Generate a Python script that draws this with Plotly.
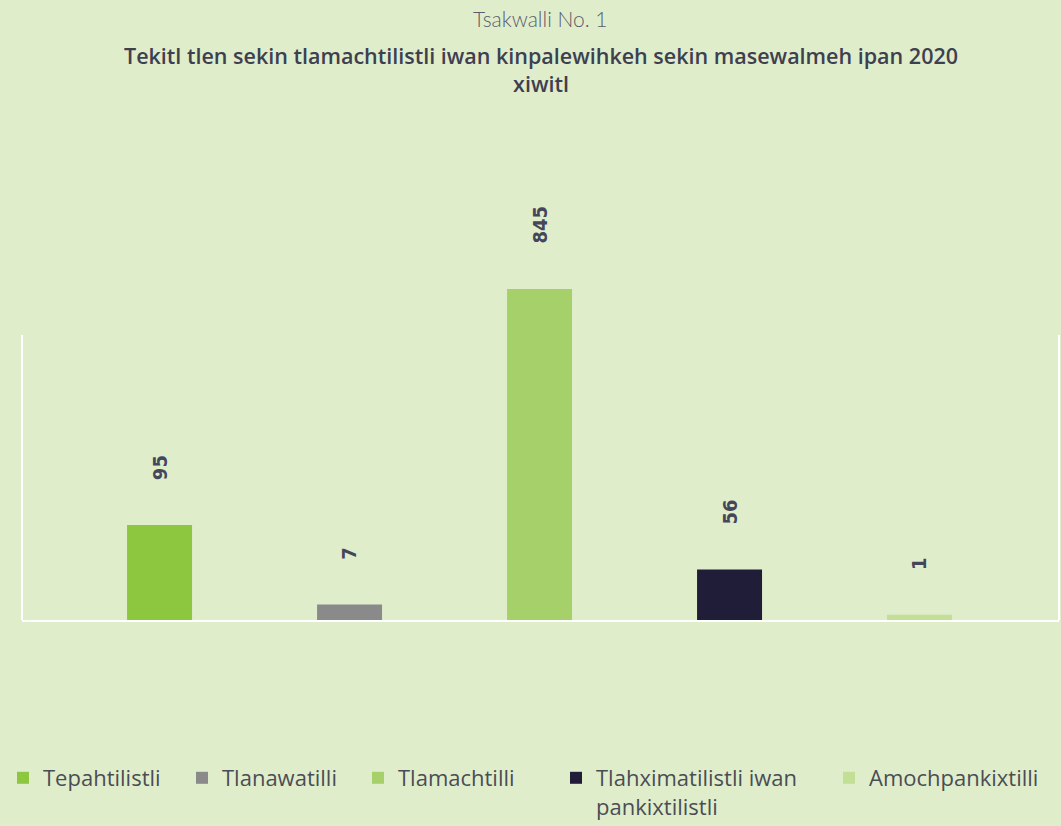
import plotly.graph_objects as go

categories = ["Tepahtilistli", "Tlanawatilli", "Tlamachtilli",
              "Tlahximatilistli iwan<br>pankixtilistli", "Amochpankixtilli"]
value_labels = ["95", "7", "845", "56", "1"]
# bar heights as drawn in the reference (frame top = 100)
bar_heights = [33.3, 5.4, 116.1, 17.7, 1.8]
colors = ["#8dc63f", "#8a8a8a", "#a6d06a", "#1f1d38", "#c3df95"]
title_small = "Tsakwalli No. 1"
title_main = "Tekitl tlen sekin tlamachtilistli iwan kinpalewihkeh sekin masewalmeh ipan 2020<br>xiwitl"

BG = "#e0edcb"
W, H = 1061, 826
ML, MR, MT, MB = 22, 2, 120, 206
PH = H - MT - MB
PW = W - ML - MR

# legend entry text starts (pixels) for layout
legend_text_x = [42, 221, 397, 595, 868]


def paper_y(px):
    return (H - MB - px) / PH


def paper_x(px):
    return (px - ML) / PW


fig = go.Figure()
legend_layouts = {}
for i, (cat, h, c) in enumerate(zip(categories, bar_heights, colors)):
    lname = "legend" if i == 0 else f"legend{i+1}"
    fig.add_trace(go.Bar(x=[i], y=[h], name=cat, marker=dict(color=c, line=dict(width=0)),
                         width=0.342, cliponaxis=False, hoverinfo="skip", legend=lname))
    legend_layouts[lname] = dict(
        orientation="h", x=paper_x(legend_text_x[i] - 39), xanchor="left",
        yref="container", y=1 - 757 / H, yanchor="top", valign="top",
        font=dict(family="Open Sans", size=22, color="#4a4d55", weight=500),
        bgcolor="rgba(0,0,0,0)", itemclick=False, itemdoubleclick=False)

for i, (h, lab) in enumerate(zip(bar_heights, value_labels)):
    fig.add_annotation(x=i, y=h, xref="x", yref="y", text=lab, showarrow=False,
                       textangle=-90, yanchor="bottom", xanchor="center", yshift=43,
                       font=dict(family="DejaVu Sans Condensed, DejaVu Sans, sans-serif",
                                 size=20, color="#444659", weight="bold"))

# frame side lines
for xp in (0, 1):
    fig.add_shape(type="line", xref="paper", yref="y", x0=xp, x1=xp, y0=0, y1=100,
                  line=dict(color="white", width=2), layer="below")

fig.add_annotation(text=title_small, xref="paper", yref="paper", x=0.5, y=paper_y(18),
                   showarrow=False, yanchor="middle",
                   font=dict(family="Lato", size=21, color="#5a5d6c", weight=300))
fig.add_annotation(text=title_main, xref="paper", yref="paper", x=0.5, y=paper_y(39),
                   yanchor="top", showarrow=False,
                   font=dict(family="Open Sans", size=21.5, color="#3e4050", weight=600))

fig.update_layout(
    width=W, height=H,
    paper_bgcolor=BG, plot_bgcolor=BG,
    margin=dict(l=ML, r=MR, t=MT, b=MB),
    barmode="overlay",
    xaxis=dict(range=[-0.724, 4.734], showticklabels=False, showgrid=False, zeroline=False,
               showline=True, linecolor="white", linewidth=2, ticks=""),
    yaxis=dict(range=[0, 175.4], showticklabels=False, showgrid=False, zeroline=False,
               showline=False, ticks=""),
    showlegend=True,
    **legend_layouts,
)

fig.write_html("out.html", post_script="document.body.style.margin='0';",
               config={"displayModeBar": False})
